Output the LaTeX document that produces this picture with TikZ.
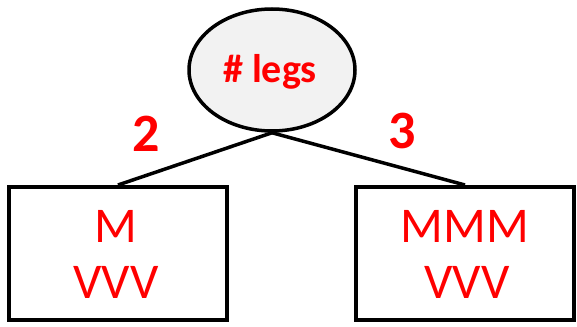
\documentclass[tikz,border=0pt]{standalone}
\usepackage{fontspec}
\setmainfont{Carlito}
\usetikzlibrary{shapes.geometric,backgrounds}
\definecolor{txtred}{RGB}{255,0,0}
\definecolor{ellfill}{RGB}{242,242,242}
\begin{document}
\begin{tikzpicture}[x=1pt,y=-1pt,
  conn/.style={line width=3.5pt, black},
  leaf/.style={draw=black, line width=4pt, fill=white, minimum width=218pt, minimum height=133pt, inner sep=0pt},
  root/.style={ellipse, draw=black, line width=3.5pt, fill=ellfill, minimum width=166pt, minimum height=122pt, inner sep=0pt},
  big/.style={text=txtred, font=\fontsize{50}{52}\selectfont, align=center},
  lbl/.style={text=txtred, font=\bfseries\fontsize{54}{56}\selectfont}]
\useasboundingbox (0,0) rectangle (577,326);
\node[root] (r) at (272,70) {};
\node[text=txtred, font=\bfseries\fontsize{40}{44}\selectfont] (rt) at (270,72) {\# legs};
\node[leaf] (lb) at (118,253.5) {};
\node[leaf] (rb) at (465,253.5) {};
\begin{pgfonlayer}{background}
\draw[conn] (r.south) -- (lb.north);
\draw[conn] (r.south) -- (rb.north);
\end{pgfonlayer}
\node[big] (lt1) at (116,226) {M};
\node[big] (lt2) at (116,282) {VVV};
\node[big] (rt1) at (465,226) {MMM};
\node[big] (rt2) at (467,282) {VVV};
\node[lbl] (n2) at (146,134) {2};
\node[lbl] (n3) at (402,131) {3};
\end{tikzpicture}
\end{document}
